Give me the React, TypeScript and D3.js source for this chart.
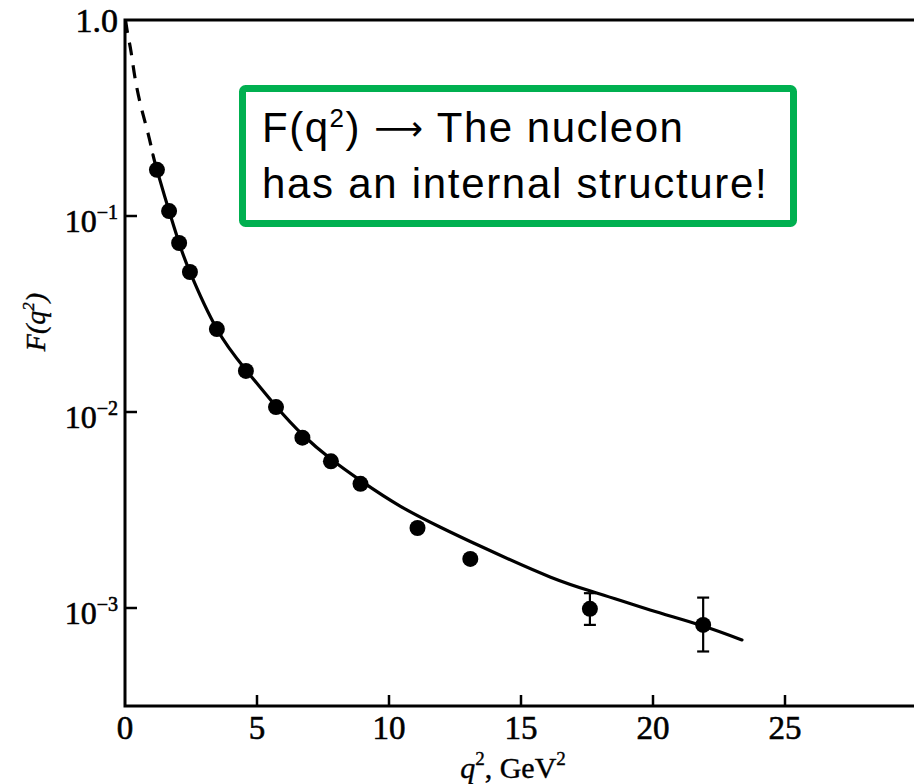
import React from "react";
import * as d3 from "d3";

// Measured data points (q^2 in GeV^2, F(q^2))
const q2Points = [1.21, 1.67, 2.05, 2.46, 3.48, 4.58, 5.72, 6.72, 7.80, 8.92, 11.08, 13.08, 17.61, 21.90];
const fPoints = [0.172, 0.106, 0.0728, 0.0518, 0.0265, 0.0162, 0.0106, 0.0074, 0.0056, 0.0043, 0.00256, 0.00178, 0.00099, 0.00082];
// Error bars (only on the last two points)
const errIndex = [12, 13];
const errHigh = [0.00119, 0.00113];
const errLow = [0.00082, 0.0006];

// Fitted curve, solid part
const curveQ2 = [1.06, 1.21, 1.67, 2.05, 2.46, 3.48, 4.58, 5.72, 6.74, 7.80, 8.94, 10.42, 11.93, 13.45, 16.10, 17.99, 19.89, 21.78, 23.37];
const curveF = [0.205, 0.172, 0.106, 0.0728, 0.0518, 0.0265, 0.0164, 0.0107, 0.00763, 0.00575, 0.00445, 0.00331, 0.00259, 0.00207, 0.00144, 0.00118, 0.000977, 0.000819, 0.000687];
// Fitted curve, dashed extrapolation to q^2 = 0
const dashQ2 = [0.02, 0.11, 0.23, 0.38, 0.61, 0.87, 1.06];
const dashF = [1.0, 0.838, 0.687, 0.506, 0.36, 0.265, 0.205];

const xTicks = [0, 5, 10, 15, 20, 25];
const yTicks = [
  { v: 1, base: "1.0", exp: "" },
  { v: 0.1, base: "10", exp: "−1" },
  { v: 0.01, base: "10", exp: "−2" },
  { v: 0.001, base: "10", exp: "−3" },
];

const W = 914;
const H = 784;

export default function App() {
  const x = d3.scaleLinear().domain([0, 30]).range([125, 917]);
  const y = d3.scaleLog().domain([Math.pow(10, -3.5), 1]).range([706, 20]);

  const line = d3
    .line<[number, number]>()
    .x((d) => x(d[0]))
    .y((d) => y(d[1]))
    .curve(d3.curveNatural);

  const solid = line(curveQ2.map((q, i) => [q, curveF[i]] as [number, number])) || "";
  const dashed = line(dashQ2.map((q, i) => [q, dashF[i]] as [number, number])) || "";

  const serif = "'Liberation Serif', 'Times New Roman', serif";
  const sans = "'Liberation Sans', Arial, sans-serif";
  const ink = { fill: "#000", stroke: "#000", strokeWidth: 0.6 };

  return (
    <svg
      width={W}
      height={H}
      viewBox={`0 0 ${W} ${H}`}
      style={{ position: "absolute", left: 0, top: 0, background: "#fff" }}
    >
      <rect x={0} y={0} width={W} height={H} fill="#fff" />
      {/* frame */}
      <rect
        x={x(0)}
        y={y(1)}
        width={x(30) - x(0)}
        height={y(Math.pow(10, -3.5)) - y(1)}
        fill="none"
        stroke="#000"
        strokeWidth={3}
      />
      {/* x ticks */}
      {xTicks.map((t) => (
        <g key={"xt" + t}>
          {t > 0 && (
            <line x1={x(t)} x2={x(t)} y1={706} y2={695} stroke="#000" strokeWidth={2.5} />
          )}
          <text x={x(t)} y={739} textAnchor="middle" fontFamily={serif} fontSize={33} {...ink}>
            {t}
          </text>
        </g>
      ))}
      {/* y ticks */}
      {yTicks.map((t) => (
        <g key={"yt" + t.v}>
          {t.v < 1 && (
            <line x1={125} x2={137} y1={y(t.v)} y2={y(t.v)} stroke="#000" strokeWidth={2.5} />
          )}
          {t.exp ? (
            <text x={118} y={y(t.v) + 16} textAnchor="end" fontFamily={serif} fontSize={32} {...ink}>
              {t.base}
              <tspan fontSize={20} dy={-13}>
                {t.exp}
              </tspan>
            </text>
          ) : (
            <text x={118} y={y(t.v) + 12} textAnchor="end" fontFamily={serif} fontSize={34} {...ink}>
              {t.base}
            </text>
          )}
        </g>
      ))}
      {/* axis titles */}
      <text
        transform="translate(45,322) rotate(-90)"
        textAnchor="middle"
        fontFamily={serif}
        fontStyle="italic"
        fontSize={28}
        {...ink}
        strokeWidth={0.4}
      >
        F(q
        <tspan fontSize={17} dy={-11}>
          2
        </tspan>
        <tspan dy={11}>)</tspan>
      </text>
      <text x={513} y={778} textAnchor="middle" fontFamily={serif} fontSize={30} {...ink} strokeWidth={0.4}>
        <tspan fontStyle="italic">q</tspan>
        <tspan fontSize={19} dy={-13}>
          2
        </tspan>
        <tspan dy={13}>, GeV</tspan>
        <tspan fontSize={19} dy={-13}>
          2
        </tspan>
      </text>
      {/* curves */}
      <path d={dashed} fill="none" stroke="#000" strokeWidth={3.2} strokeDasharray="13 10" />
      <path d={solid} fill="none" stroke="#000" strokeWidth={3.2} strokeLinecap="round" />
      {/* error bars */}
      {errIndex.map((idx, k) => {
        const cx = x(q2Points[idx]);
        return (
          <g key={"e" + idx}>
            <line x1={cx} x2={cx} y1={y(errHigh[k])} y2={y(errLow[k])} stroke="#000" strokeWidth={2.2} />
            <line x1={cx - 6} x2={cx + 6} y1={y(errHigh[k])} y2={y(errHigh[k])} stroke="#000" strokeWidth={2.2} />
            <line x1={cx - 6} x2={cx + 6} y1={y(errLow[k])} y2={y(errLow[k])} stroke="#000" strokeWidth={2.2} />
          </g>
        );
      })}
      {/* points */}
      {q2Points.map((q, i) => (
        <circle key={"p" + i} cx={x(q)} cy={y(fPoints[i])} r={8} fill="#000" />
      ))}
      {/* annotation box */}
      <rect
        x={242.5}
        y={88.5}
        width={551}
        height={135}
        rx={3}
        fill="#fff"
        stroke="#00b050"
        strokeWidth={7}
      />
      <text x={262} y={142} fontFamily={sans} fontSize={42} fill="#000" letterSpacing={1.5}>
        F(q
        <tspan fontSize={26} dy={-15}>
          2
        </tspan>
        <tspan dy={15}>) </tspan>
        <tspan fontFamily="'DejaVu Sans', sans-serif" fontSize={34} dy={-2}>
          ⟶
        </tspan>
        <tspan dy={2}> The nucleon</tspan>
      </text>
      <text x={262} y={198} fontFamily={sans} fontSize={42} fill="#000" letterSpacing={1.7}>
        has an internal structure!
      </text>
    </svg>
  );
}
